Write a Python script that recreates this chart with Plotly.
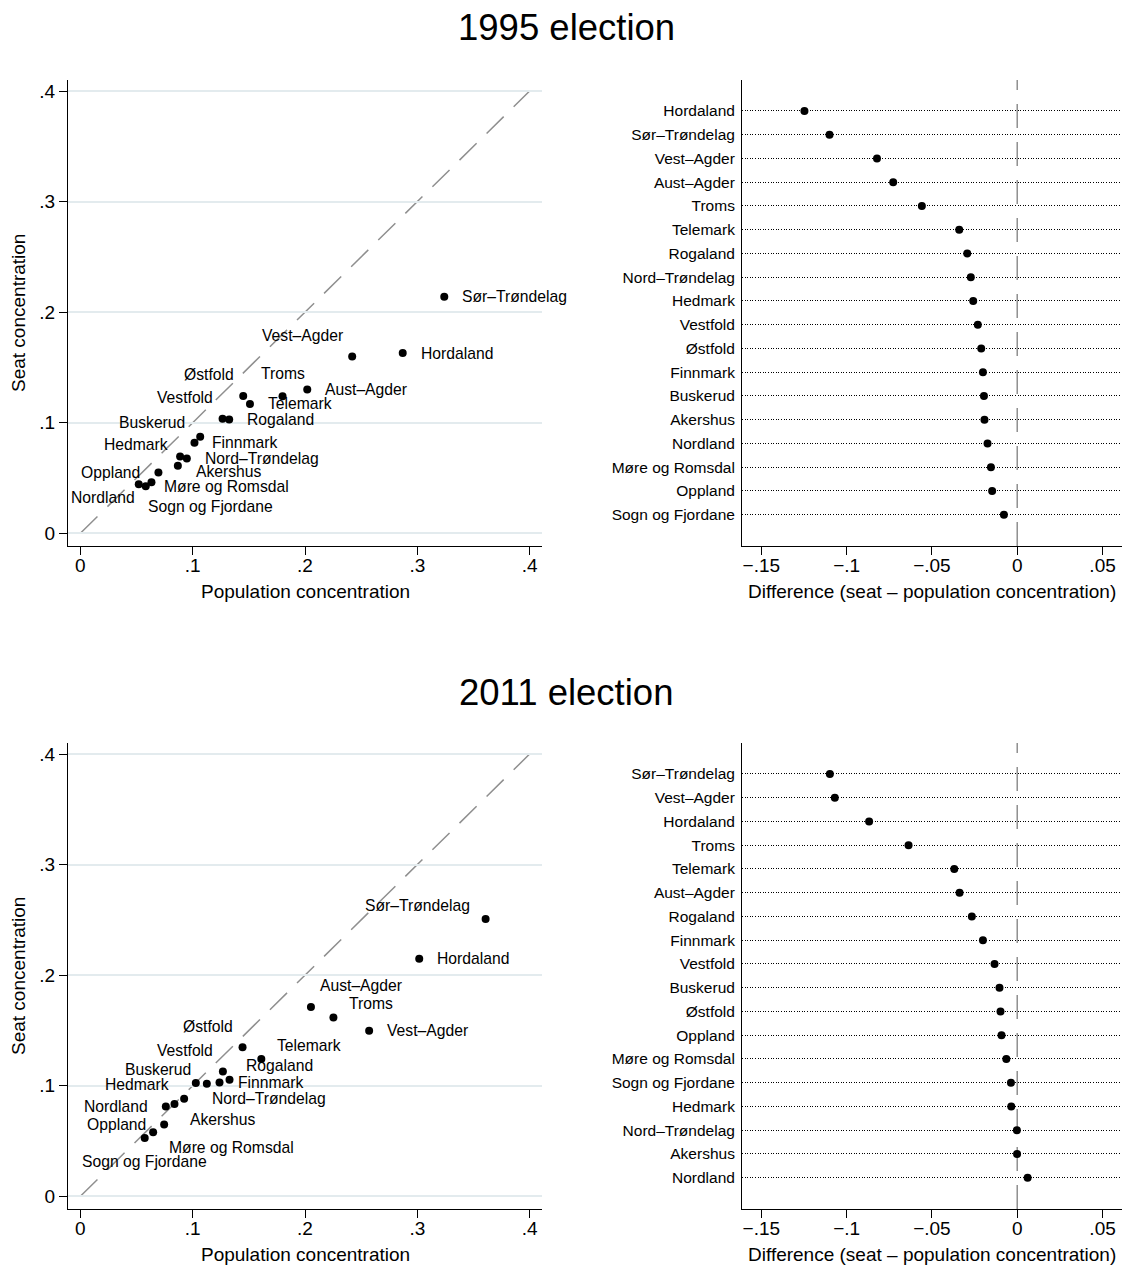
import plotly.graph_objects as go

# ---------------- data ----------------
regions = ["Østfold", "Akershus", "Hedmark", "Oppland", "Buskerud", "Vestfold",
           "Telemark", "Aust–Agder", "Vest–Agder", "Rogaland", "Hordaland",
           "Sogn og Fjordane", "Møre og Romsdal", "Sør–Trøndelag", "Nord–Trøndelag",
           "Nordland", "Troms", "Finnmark"]

pop_1995 = [0.1450, 0.0888, 0.0868, 0.0695, 0.1067, 0.1266, 0.1510, 0.2020, 0.2420,
            0.1325, 0.2870, 0.0520, 0.0582, 0.3240, 0.0948, 0.0633, 0.1800, 0.1016]
seat_1995 = [0.1242, 0.0695, 0.0610, 0.0550, 0.0873, 0.1036, 0.1170, 0.1300, 0.1600,
             0.1030, 0.1630, 0.0444, 0.0426, 0.2140, 0.0677, 0.0462, 0.1240, 0.0818]

pop_2011 = [0.1444, 0.0838, 0.0924, 0.0746, 0.1126, 0.1269, 0.1611, 0.2053, 0.2571,
            0.1328, 0.3017, 0.0573, 0.0648, 0.3608, 0.1028, 0.0761, 0.2253, 0.1239]
seat_2011 = [0.1347, 0.0834, 0.0882, 0.0649, 0.1018, 0.1129, 0.1241, 0.1713, 0.1498,
             0.1054, 0.2148, 0.0528, 0.0580, 0.2507, 0.1024, 0.0812, 0.1616, 0.1030]

diff_1995_names = ["Hordaland", "Sør–Trøndelag", "Vest–Agder", "Aust–Agder", "Troms",
                   "Telemark", "Rogaland", "Nord–Trøndelag", "Hedmark", "Vestfold",
                   "Østfold", "Finnmark", "Buskerud", "Akershus", "Nordland",
                   "Møre og Romsdal", "Oppland", "Sogn og Fjordane"]
diff_1995 = [-0.1247, -0.1100, -0.0822, -0.0727, -0.0559, -0.0340, -0.0293, -0.0272,
             -0.0258, -0.0231, -0.0211, -0.0201, -0.0195, -0.0192, -0.0174, -0.0154,
             -0.0147, -0.0078]

diff_2011_names = ["Sør–Trøndelag", "Vest–Agder", "Hordaland", "Troms", "Telemark",
                   "Aust–Agder", "Rogaland", "Finnmark", "Vestfold", "Buskerud",
                   "Østfold", "Oppland", "Møre og Romsdal", "Sogn og Fjordane",
                   "Hedmark", "Nord–Trøndelag", "Akershus", "Nordland"]
diff_2011 = [-0.1098, -0.1069, -0.0868, -0.0637, -0.0369, -0.0338, -0.0266, -0.0201,
             -0.0133, -0.0104, -0.0098, -0.0092, -0.0064, -0.0037, -0.0035, -0.0002,
             -0.0001, 0.0061]

scatter_ticks = [0, 0.1, 0.2, 0.3, 0.4]
scatter_ticktext = ["0", ".1", ".2", ".3", ".4"]
diff_ticks = [-0.15, -0.1, -0.05, 0, 0.05]
diff_ticktext = ["−.15", "−.1", "−.05", "0", ".05"]

# ---------------- style ----------------
# clock position of each marker label (Stata-style), in the order of `regions`
label_pos_1995 = [11, 4, 11, 9, 10, 11, 3, 3, 11, 3, 3, 5, 3, 3, 3, 8, 12, 3]
label_pos_2011 = [11, 4, 10, 9, 10, 11, 2, 1, 3, 2, 3, 6, 4, 10, 4, 9, 2, 3]
# clock position -> (xanchor, dx px, dy px (down positive))
CLOCK = {
    1: ("left", 7, -21), 2: ("left", 14, -14), 3: ("left", 16, 0),
    4: ("left", 14, 15), 5: ("left", 7, 22), 6: ("center", 0, 24),
    7: ("right", -7, 22), 8: ("right", -14, 15.7), 9: ("right", -16, 0),
    10: ("right", -13.5, -14), 11: ("right", -7.5, -21), 12: ("center", 0, -23),
}

PAGE_OFF = 8          # default body margin of the html page
W, H = 1132 - 2 * PAGE_OFF, 1270 - PAGE_OFF
FONT = "Liberation Sans, Arial, Helvetica, sans-serif"
TICK_FS = 19
LABEL_FS = 15.7
CAT_FS = 15.5
TITLE_FS = 36.5
GRID = "#e3ebee"
REF = "#8f8f8f"

def px(x0, x1):
    return [(x0 - PAGE_OFF) / W, (x1 - PAGE_OFF) / W]

def py(top, bottom):
    return [1 - (bottom - PAGE_OFF) / H, 1 - (top - PAGE_OFF) / H]

scatter_xdom = px(68, 542)
diff_xdom = px(742, 1122)
top_ydom = py(80, 546)
bot_ydom = py(743, 1209)
scatter_xrange = [-0.011, 0.411]
scatter_yrange = [-0.0115, 0.41]
diff_xrange = [-0.1613, 0.0614]
n_cat = len(diff_1995_names)
diff_yrange = [n_cat - 1 + 1.32, -1.3]
diag_end = 0.4

fig = go.Figure()

panels = [
    ("x", "y", pop_1995, seat_1995, label_pos_1995),
    ("x3", "y3", pop_2011, seat_2011, label_pos_2011),
]
annotations = []
shapes = []
for xa, ya, pops, seats, lpos in panels:
    fig.add_trace(go.Scatter(x=pops, y=seats, mode="markers", xaxis=xa, yaxis=ya,
                             marker=dict(color="black", size=8), showlegend=False,
                             hoverinfo="skip"))
    for name, xv, yv, p in zip(regions, pops, seats, lpos):
        anc, dx, dy = CLOCK[p]
        annotations.append(dict(x=xv, y=yv, xref=xa, yref=ya, text=name,
                                showarrow=False, xanchor=anc, yanchor="middle",
                                xshift=dx, yshift=-dy,
                                font=dict(size=LABEL_FS, color="black", family=FONT)))
    shapes.append(dict(type="line", xref=xa, yref=ya, x0=0, y0=0, x1=diag_end, y1=diag_end,
                       line=dict(color=REF, width=1.5, dash="24px,14px"), layer="below"))
    annotations.append(dict(text="Population concentration", x=0.5, y=0,
                            xref=f"{xa} domain", yref=f"{ya} domain", yshift=-45,
                            showarrow=False, xanchor="center", yanchor="middle",
                            font=dict(size=TICK_FS, color="black", family=FONT)))
    annotations.append(dict(text="Seat concentration", x=0, y=0.5, textangle=-90,
                            xref=f"{xa} domain", yref=f"{ya} domain", xshift=-50,
                            showarrow=False, xanchor="center", yanchor="middle",
                            font=dict(size=TICK_FS, color="black", family=FONT)))

dpanels = [
    ("x2", "y2", diff_1995_names, diff_1995),
    ("x4", "y4", diff_2011_names, diff_2011),
]
for xa, ya, names, diffs in dpanels:
    fig.add_trace(go.Scatter(x=diffs, y=names, mode="markers", xaxis=xa, yaxis=ya,
                             marker=dict(color="black", size=8), showlegend=False,
                             hoverinfo="skip"))
    shapes.append(dict(type="line", xref=xa, yref=f"{ya} domain", x0=0, x1=0, y0=0, y1=1,
                       line=dict(color=REF, width=1.5, dash="24px,14px"), layer="below"))
    annotations.append(dict(text="Difference (seat – population concentration)", x=0.5, y=0,
                            xref=f"{xa} domain", yref=f"{ya} domain", yshift=-45,
                            showarrow=False, xanchor="center", yanchor="middle",
                            font=dict(size=TICK_FS, color="black", family=FONT)))

for txt, ycen in [("1995 election", 27), ("2011 election", 692)]:
    annotations.append(dict(text=txt, x=0.5, y=1 - (ycen - PAGE_OFF) / H,
                            xref="paper", yref="paper",
                            showarrow=False, xanchor="center", yanchor="middle",
                            font=dict(size=TITLE_FS, color="black", family=FONT)))

tickfont = dict(size=TICK_FS, color="black", family=FONT)

def scatter_x(dom, anchor):
    return dict(domain=dom, anchor=anchor, range=scatter_xrange, showgrid=False,
                zeroline=False, showline=True, linecolor="black", linewidth=1,
                ticks="outside", ticklen=8, tickcolor="black", tickwidth=1,
                ticklabelstandoff=-6,
                tickvals=scatter_ticks, ticktext=scatter_ticktext, tickfont=tickfont)

def scatter_y(dom, anchor):
    return dict(domain=dom, anchor=anchor, range=scatter_yrange, showgrid=True,
                gridcolor=GRID, gridwidth=1.5, zeroline=False, showline=True,
                linecolor="black", linewidth=1, ticks="outside", ticklen=8,
                tickcolor="black", tickwidth=1, tickvals=scatter_ticks,
                ticktext=scatter_ticktext, tickfont=tickfont)

def diff_x(dom, anchor):
    return dict(domain=dom, anchor=anchor, range=diff_xrange, showgrid=False,
                zeroline=False, showline=True, linecolor="black", linewidth=1,
                ticks="outside", ticklen=8, tickcolor="black", tickwidth=1,
                ticklabelstandoff=-6,
                tickvals=diff_ticks, ticktext=diff_ticktext, tickfont=tickfont)

def diff_y(dom, anchor, names):
    return dict(domain=dom, anchor=anchor, type="category", categoryorder="array",
                categoryarray=names, range=diff_yrange, showgrid=True,
                gridcolor="black", gridwidth=1, griddash="1px,1.6px", zeroline=False,
                showline=True, linecolor="black", linewidth=1, ticks="",
                ticklabelstandoff=3,
                tickfont=dict(size=CAT_FS, color="black", family=FONT))

fig.update_layout(
    width=W, height=H, margin=dict(l=0, r=0, t=0, b=0),
    paper_bgcolor="white", plot_bgcolor="white", showlegend=False,
    font=dict(family=FONT, color="black"),
    xaxis=scatter_x(scatter_xdom, "y"), yaxis=scatter_y(top_ydom, "x"),
    xaxis2=diff_x(diff_xdom, "y2"), yaxis2=diff_y(top_ydom, "x2", diff_1995_names),
    xaxis3=scatter_x(scatter_xdom, "y3"), yaxis3=scatter_y(bot_ydom, "x3"),
    xaxis4=diff_x(diff_xdom, "y4"), yaxis4=diff_y(bot_ydom, "x4", diff_2011_names),
    annotations=annotations, shapes=shapes,
)

fig.write_html("out.html")
